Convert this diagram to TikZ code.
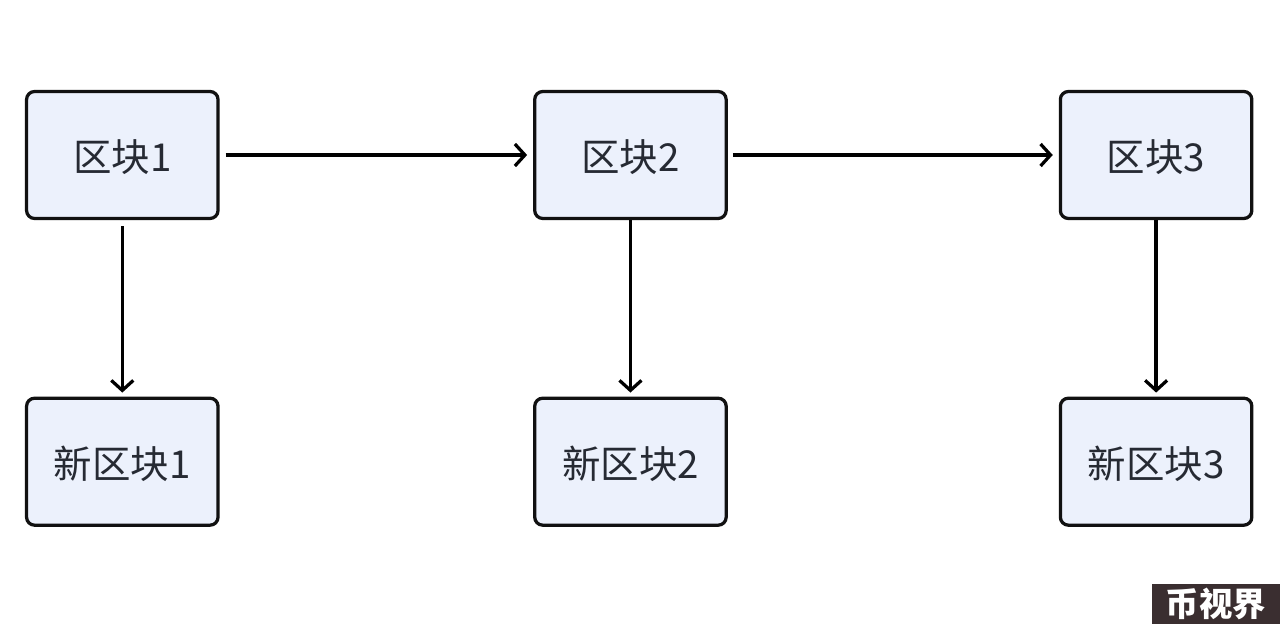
\documentclass[tikz,border=0pt]{standalone}
\usepackage{fontspec}
\setmainfont{Noto Sans CJK SC}
\newfontfamily\markfont{Noto Sans CJK SC Black}
\usetikzlibrary{
	arrows.meta,
	positioning
}

\definecolor{blockfill}{HTML}{ECF1FC}
\definecolor{blockdraw}{HTML}{111111}
\definecolor{blocktext}{HTML}{262A33}
\definecolor{markfill}{HTML}{3A2E30}

\begin{document}
\begin{tikzpicture} [
		x = 0.02cm,
		y = -0.02cm,
		node/.style = {
			rectangle,
			rounded corners = 0.16cm,
			draw = blockdraw,
			fill = blockfill,
			line width = 0.065cm,
			text = blocktext,
			font = \fontsize{21.9pt}{26pt}\selectfont,
			text height = 0.68cm,
			text depth = 0pt,
			minimum width = 3.83cm,
			minimum height = 2.54cm,
			inner sep = 0pt,
		},
		line/.style = {
			draw = black,
			line width = 0.065cm,
			-{Straight Barb[length = 0.2cm, width = 0.44cm, line width = 0.065cm]},
			shorten >=0.12cm,
		},
		down-line/.style = {
			line,
			shorten >=0.08cm,
		},
		mark-box/.style = {
			rectangle,
			fill = markfill,
			text = white,
			font = \fontsize{19pt}{22pt}\selectfont\markfont,
			minimum width = 2.56cm,
			minimum height = 0.8cm,
			inner sep = 0pt,
		}
	]

	\useasboundingbox (0, 0) rectangle (1280, 624);

	\node[node] (a) at (122.3, 155) {区块1};
	\node[node, right = 6.27cm of a] (b) {区块2};
	\node[node, right = 6.62cm of b] (c) {区块3};

	\node[node, below = 3.53cm of a] (na) {新区块1};
	\node[node, below = 3.53cm of b] (nb) {新区块2};
	\node[node, below = 3.53cm of c] (nc) {新区块3};

	\node[mark-box] (mark) at (1216, 604) {币视界};

	\path[line, shorten <=0.12cm] (a) -- (b);
	\path[line, shorten <=0.1cm] (b) -- (c);
	\path[down-line, shorten <=0.12cm] (a) -- (na);
	\path[down-line] (b) -- (nb);
	\path[down-line] (c) -- (nc);
\end{tikzpicture}
\end{document}
